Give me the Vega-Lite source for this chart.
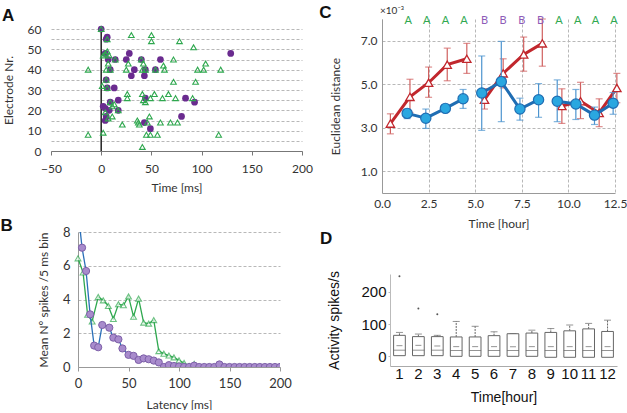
{
  "$schema": "https://vega.github.io/schema/vega-lite/v6.json",
  "background": "white",
  "padding": {"left": 0, "top": 4, "right": 0, "bottom": 0},
  "config": {
    "view": {"stroke": null},
    "font": "Lato",
    "title": {"fontSize": 17, "font": "Liberation Sans", "fontWeight": "bold", "anchor": "start", "frame": "bounds", "color": "#111"},
    "axis": {"labelFontSize": 12, "titleFontSize": 12, "titleFontWeight": "normal", "labelColor": "#333", "titleColor": "#333", "domainColor": "#999", "tickColor": "#999", "gridColor": "#b8b8b8", "gridDash": [3, 2], "labelFont": "Lato", "titleFont": "Lato", "labelOverlap": false, "labelFlush": false}
  },
  "spacing": 6,
  "hconcat": [
    {
      "vconcat": [
        {
          "title": {"text": "A", "offset": -6, "dx": 0},
          "width": 251, "height": 132,
          "data": {"name": "A"},
          "encoding": {
            "x": {"field": "t", "type": "quantitative", "scale": {"domain": [-50, 200], "nice": false}, "axis": {"values": [-50, 0, 50, 100, 150, 200], "title": "Time [ms]", "grid": false, "tickSize": 4, "labelPadding": 8, "titlePadding": 8, "domainColor": "#777", "tickColor": "#777", "labelFlush": false}},
            "y": {"field": "el", "type": "quantitative", "scale": {"domain": [0, 60], "nice": false, "range": [132, 10]}, "axis": {"values": [0, 5, 10, 15, 20, 25, 30, 35, 40, 45, 50, 55, 60], "labelExpr": "datum.value % 10 === 0 ? datum.label : ''", "labelOverlap": false, "title": "Electrode Nr.", "domain": false, "ticks": false, "labelPadding": 10, "titlePadding": 12}}
          },
          "layer": [
            {
              "data": {"values": [{"t": 0, "el": 0, "el2": 60}]},
              "mark": {"type": "rule", "color": "#222", "strokeWidth": 1.5},
              "encoding": {"y2": {"field": "el2"}}
            },
            {
              "transform": [{"filter": "datum.kind === 'circle'"}],
              "mark": {"type": "point", "shape": "circle", "filled": true, "color": "#6a2b8f", "size": 45, "opacity": 1},
              "encoding": {}
            },
            {
              "transform": [{"filter": "datum.kind === 'triangle'"}],
              "mark": {"type": "point", "shape": "triangle-up", "filled": false, "color": "#2fa84f", "strokeWidth": 1.1, "size": 32, "opacity": 1},
              "encoding": {}
            }
          ]
        },
        {
          "title": {"text": "B", "offset": -9, "dx": -37},
          "width": 229, "height": 135,
          "encoding": {
            "x": {"field": "x", "type": "quantitative", "scale": {"domain": [0, 200], "nice": false, "range": [27, 229]}, "axis": {"values": [0, 50, 100, 150, 200], "title": "Latency [ms]", "grid": false, "tickSize": 4, "labelPadding": 6, "titlePadding": 9, "labelFontSize": 13, "labelFlush": false}},
            "y": {"field": "y", "type": "quantitative", "scale": {"domain": [0, 8], "nice": false}, "axis": {"values": [0, 2, 4, 6, 8], "title": "Mean Nº spikes /5 ms bin", "tickSize": 0, "labelPadding": 8, "titlePadding": 12, "labelFontSize": 13, "offset": -27}}
          },
          "layer": [
            {
              "data": {"name": "Bgreen"},
              "mark": {"type": "line", "color": "#2fa84f", "strokeWidth": 1.3, "clip": true},
              "encoding": {}
            },
            {
              "data": {"name": "Bgreen"},
              "mark": {"type": "point", "shape": "triangle-up", "filled": true, "fill": "white", "stroke": "#2fa84f", "strokeWidth": 1.1, "size": 34, "clip": true},
              "encoding": {}
            },
            {
              "data": {"name": "Bpurple"},
              "mark": {"type": "line", "color": "#2a6fb8", "strokeWidth": 1.3, "clip": true},
              "encoding": {}
            },
            {
              "data": {"name": "Bpurple"},
              "mark": {"type": "point", "shape": "circle", "filled": true, "fill": "#a88bcc", "stroke": "#7d5fa8", "strokeWidth": 1, "size": 52, "opacity": 1, "clip": true},
              "encoding": {}
            }
          ]
        }
      ],
      "spacing": 24
    },
    {
      "vconcat": [
        {
          "title": {"text": "C", "offset": -16, "dx": -10},
          "width": 233, "height": 174,
          "layer": [
            {
              "data": {"name": "Cred"},
              "mark": {"type": "rule", "color": "#d0605f", "strokeWidth": 1.2},
              "encoding": {
                "x": {"field": "x", "type": "quantitative"},
                "y": {"field": "lo", "type": "quantitative"},
                "y2": {"field": "hi"}
              }
            },
            {
              "data": {"name": "Cred"},
              "mark": {"type": "tick", "orient": "horizontal", "color": "#d0605f", "size": 7, "thickness": 1.2},
              "encoding": {
                "x": {"field": "x", "type": "quantitative"},
                "y": {"field": "lo", "type": "quantitative"}
              }
            },
            {
              "data": {"name": "Cred"},
              "mark": {"type": "tick", "orient": "horizontal", "color": "#d0605f", "size": 7, "thickness": 1.2},
              "encoding": {
                "x": {"field": "x", "type": "quantitative"},
                "y": {"field": "hi", "type": "quantitative"}
              }
            },
            {
              "data": {"name": "Cred"},
              "mark": {"type": "line", "color": "#c1272d", "strokeWidth": 3},
              "encoding": {
                "x": {"field": "x", "type": "quantitative"},
                "y": {"field": "y", "type": "quantitative"},
                "detail": {"field": "seg"}
              }
            },
            {
              "data": {"name": "Cred"},
              "mark": {"type": "point", "shape": "triangle-up", "filled": true, "fill": "white", "stroke": "#c1272d", "strokeWidth": 1.3, "size": 70, "opacity": 1},
              "encoding": {
                "x": {"field": "x", "type": "quantitative"},
                "y": {"field": "y", "type": "quantitative"}
              }
            },
            {
              "data": {"name": "Cblue"},
              "mark": {"type": "rule", "color": "#4d94cf", "strokeWidth": 1.2},
              "encoding": {
                "x": {"field": "x", "type": "quantitative"},
                "y": {"field": "lo", "type": "quantitative"},
                "y2": {"field": "hi"}
              }
            },
            {
              "data": {"name": "Cblue"},
              "mark": {"type": "tick", "orient": "horizontal", "color": "#4d94cf", "size": 7, "thickness": 1.2},
              "encoding": {
                "x": {"field": "x", "type": "quantitative"},
                "y": {"field": "lo", "type": "quantitative"}
              }
            },
            {
              "data": {"name": "Cblue"},
              "mark": {"type": "tick", "orient": "horizontal", "color": "#4d94cf", "size": 7, "thickness": 1.2},
              "encoding": {
                "x": {"field": "x", "type": "quantitative"},
                "y": {"field": "hi", "type": "quantitative"}
              }
            },
            {
              "data": {"name": "Cblue"},
              "mark": {"type": "line", "color": "#1f6db3", "strokeWidth": 3},
              "encoding": {
                "x": {"field": "x", "type": "quantitative"},
                "y": {"field": "y", "type": "quantitative"},
                "detail": {"field": "seg"}
              }
            },
            {
              "data": {"name": "Cblue"},
              "mark": {"type": "point", "shape": "circle", "filled": true, "fill": "#2aa7e0", "stroke": "#1f6db3", "strokeWidth": 1.2, "size": 105, "opacity": 1},
              "encoding": {
                "x": {"field": "x", "type": "quantitative"},
                "y": {"field": "y", "type": "quantitative"}
              }
            },
            {
              "data": {"name": "Cletters"},
              "mark": {"type": "text", "fontSize": 11, "baseline": "middle", "font": "Lato"},
              "encoding": {
                "x": {"field": "x", "type": "quantitative"},
                "y": {"field": "y", "type": "quantitative"},
                "text": {"field": "label"},
                "color": {"field": "label", "type": "nominal", "scale": {"domain": ["A", "B"], "range": ["#2fa84f", "#8e5cb8"]}, "legend": null}
              }
            },
            {
              "data": {"values": [{"x": 0, "y": 8, "label": "×10⁻³"}]},
              "mark": {"type": "text", "fontSize": 10, "align": "left", "baseline": "bottom", "dy": -3, "dx": -2, "color": "#333", "font": "Lato"},
              "encoding": {
                "x": {"field": "x", "type": "quantitative", "scale": {"domain": [0, 12.5], "nice": false}, "axis": {"values": [0, 2.5, 5, 7.5, 10, 12.5], "format": ".1f", "title": "Time [hour]", "tickSize": 0, "labelPadding": 5, "titlePadding": 9, "labelFlush": false}},
                "y": {"field": "y", "type": "quantitative", "scale": {"domain": [1, 8], "nice": false}, "axis": {"values": [1, 3, 5, 7], "format": ".1f", "title": "Euclidean distance", "tickSize": 0, "labelPadding": 5, "titlePadding": 18}},
                "text": {"field": "label"}
              }
            }
          ]
        },
        {
          "title": {"text": "D", "offset": 23, "dx": -8},
          "width": 235, "height": 92,
          "data": {"name": "D"},
          "encoding": {
            "x": {"field": "hour", "type": "ordinal", "scale": {"domain": [1, 2, 3, 4, 5, 6, 7, 8, 9, 10, 11, 12], "paddingInner": 0, "paddingOuter": 0, "range": [8, 235]}, "axis": {"labelAngle": 0, "ticks": false, "title": "Time[hour]", "labelFont": "Liberation Sans", "titleFont": "Liberation Sans", "labelFontSize": 15, "titleFontSize": 14, "labelColor": "#111", "titleColor": "#111", "labelPadding": 0, "titlePadding": 9, "domainColor": "#aaa"}}
          },
          "layer": [
            {
              "mark": {"type": "rule", "color": "#666", "strokeWidth": 1, "strokeDash": [2, 1]},
              "encoding": {
                "y": {"field": "q3", "type": "quantitative", "scale": {"domain": [-30, 255], "nice": false, "zero": false}, "axis": {"values": [0, 50, 100, 150, 200, 250], "labelExpr": "datum.value % 100 === 0 ? datum.label : ''", "labelOverlap": false, "title": "Activity spikes/s", "grid": false, "tickSize": 2, "labelPadding": 2, "titlePadding": 19, "labelFont": "Liberation Sans", "titleFont": "Liberation Sans", "labelFontSize": 15, "titleFontSize": 14, "labelColor": "#111", "titleColor": "#111", "domainColor": "#bbb", "tickColor": "#bbb", "offset": -8}},
                "y2": {"field": "cap"}
              }
            },
            {
              "mark": {"type": "tick", "color": "#666", "size": 7, "thickness": 1},
              "encoding": {
                "y": {"field": "cap", "type": "quantitative"}
              }
            },
            {
              "mark": {"type": "bar", "fill": "white", "stroke": "#666", "strokeWidth": 1, "width": {"band": 0.62}},
              "encoding": {
                "y": {"field": "lo", "type": "quantitative"},
                "y2": {"field": "q3"}
              }
            },
            {
              "mark": {"type": "tick", "color": "#666", "size": 12, "thickness": 1},
              "encoding": {
                "y": {"field": "med", "type": "quantitative"}
              }
            },
            {
              "mark": {"type": "tick", "color": "#666", "size": 6, "thickness": 1},
              "encoding": {
                "y": {"field": "waist", "type": "quantitative"}
              }
            },
            {
              "data": {"name": "Dout"},
              "mark": {"type": "point", "shape": "circle", "filled": true, "color": "#555", "size": 4, "opacity": 1},
              "encoding": {
                "y": {"field": "v", "type": "quantitative"}
              }
            }
          ]
        }
      ],
      "spacing": 0
    }
  ],
  "datasets": {
    "A": [
      {"t": 0, "el": 60, "kind": "circle"}, {"t": 6, "el": 56, "kind": "circle"}, {"t": 5, "el": 55, "kind": "circle"},
      {"t": 28, "el": 48, "kind": "circle"}, {"t": 129, "el": 48, "kind": "circle"}, {"t": 4, "el": 48, "kind": "circle"},
      {"t": 14, "el": 45, "kind": "circle"}, {"t": 7, "el": 45, "kind": "circle"}, {"t": 25, "el": 45, "kind": "circle"},
      {"t": 40, "el": 45, "kind": "circle"}, {"t": 59, "el": 45, "kind": "circle"}, {"t": 9, "el": 40, "kind": "circle"},
      {"t": 33, "el": 40, "kind": "circle"}, {"t": 44, "el": 40, "kind": "circle"}, {"t": 54, "el": 40, "kind": "circle"},
      {"t": 30, "el": 37, "kind": "circle"}, {"t": 43, "el": 37, "kind": "circle"}, {"t": 5, "el": 35, "kind": "circle"},
      {"t": 6, "el": 31, "kind": "circle"}, {"t": 13, "el": 31, "kind": "circle"}, {"t": 84, "el": 26, "kind": "circle"},
      {"t": 44, "el": 26, "kind": "circle"}, {"t": 17, "el": 25, "kind": "circle"}, {"t": 9, "el": 24, "kind": "circle"},
      {"t": 93, "el": 24, "kind": "circle"}, {"t": 2, "el": 22, "kind": "circle"}, {"t": 4, "el": 21, "kind": "circle"},
      {"t": 8, "el": 20, "kind": "circle"}, {"t": 17, "el": 20, "kind": "circle"}, {"t": 80, "el": 17, "kind": "circle"},
      {"t": 5, "el": 17, "kind": "circle"}, {"t": 4, "el": 15, "kind": "circle"}, {"t": 43, "el": 14, "kind": "circle"},
      {"t": 49, "el": 11, "kind": "circle"},
      {"t": 0, "el": 60, "kind": "triangle"}, {"t": 30, "el": 57, "kind": "triangle"}, {"t": 50, "el": 57, "kind": "triangle"},
      {"t": 50, "el": 54, "kind": "triangle"}, {"t": 78, "el": 54, "kind": "triangle"}, {"t": 92, "el": 51, "kind": "triangle"},
      {"t": 6, "el": 55, "kind": "triangle"}, {"t": 4, "el": 48, "kind": "triangle"}, {"t": 6, "el": 49, "kind": "triangle"},
      {"t": 2, "el": 47, "kind": "triangle"}, {"t": 8, "el": 47, "kind": "triangle"}, {"t": 14, "el": 45, "kind": "triangle"},
      {"t": 40, "el": 45, "kind": "triangle"}, {"t": 72, "el": 45, "kind": "triangle"}, {"t": 42, "el": 43, "kind": "triangle"},
      {"t": 27, "el": 43, "kind": "triangle"}, {"t": 62, "el": 42, "kind": "triangle"}, {"t": 104, "el": 43, "kind": "triangle"},
      {"t": 7, "el": 43, "kind": "triangle"},
      {"t": -13, "el": 40, "kind": "triangle"}, {"t": 5, "el": 40, "kind": "triangle"}, {"t": 9, "el": 40, "kind": "triangle"},
      {"t": 25, "el": 40, "kind": "triangle"}, {"t": 41, "el": 40, "kind": "triangle"}, {"t": 44, "el": 40, "kind": "triangle"},
      {"t": 54, "el": 40, "kind": "triangle"}, {"t": 63, "el": 40, "kind": "triangle"}, {"t": 96, "el": 40, "kind": "triangle"},
      {"t": 102, "el": 40, "kind": "triangle"}, {"t": 119, "el": 40, "kind": "triangle"}, {"t": 72, "el": 34, "kind": "triangle"},
      {"t": 94, "el": 34, "kind": "triangle"}, {"t": 5, "el": 35, "kind": "triangle"}, {"t": 1, "el": 32, "kind": "triangle"},
      {"t": 6, "el": 31, "kind": "triangle"}, {"t": 26, "el": 28, "kind": "triangle"}, {"t": 41, "el": 28, "kind": "triangle"},
      {"t": 53, "el": 28, "kind": "triangle"}, {"t": 67, "el": 28, "kind": "triangle"}, {"t": 26, "el": 26, "kind": "triangle"},
      {"t": 49, "el": 26, "kind": "triangle"}, {"t": 61, "el": 26, "kind": "triangle"}, {"t": 74, "el": 26, "kind": "triangle"},
      {"t": 91, "el": 26, "kind": "triangle"}, {"t": 9, "el": 24, "kind": "triangle"}, {"t": 44, "el": 24, "kind": "triangle"},
      {"t": 42, "el": 25, "kind": "triangle"}, {"t": 13, "el": 23, "kind": "triangle"}, {"t": 11, "el": 22, "kind": "triangle"},
      {"t": 17, "el": 20, "kind": "triangle"}, {"t": 4, "el": 19, "kind": "triangle"}, {"t": 11, "el": 17, "kind": "triangle"},
      {"t": 48, "el": 17, "kind": "triangle"}, {"t": 36, "el": 15, "kind": "triangle"}, {"t": 37, "el": 14, "kind": "triangle"},
      {"t": 38, "el": 13, "kind": "triangle"}, {"t": 21, "el": 13, "kind": "triangle"}, {"t": 46, "el": 14, "kind": "triangle"},
      {"t": 59, "el": 14, "kind": "triangle"}, {"t": 69, "el": 14, "kind": "triangle"}, {"t": 76, "el": 14, "kind": "triangle"},
      {"t": 7, "el": 16, "kind": "triangle"}, {"t": 2, "el": 9, "kind": "triangle"}, {"t": -13, "el": 8, "kind": "triangle"},
      {"t": 45, "el": 8, "kind": "triangle"}, {"t": 49, "el": 8, "kind": "triangle"}, {"t": 56, "el": 8, "kind": "triangle"},
      {"t": 117, "el": 8, "kind": "triangle"}, {"t": 41, "el": 2, "kind": "triangle"}
    ],
    "Bgreen": [
      {"x": 0, "y": 6.44}, {"x": 5, "y": 5.6}, {"x": 9.5, "y": 3.1}, {"x": 14, "y": 2.7}, {"x": 20, "y": 4.15},
      {"x": 25, "y": 3.95}, {"x": 30, "y": 3.62}, {"x": 35, "y": 2.85}, {"x": 40, "y": 3.72}, {"x": 45, "y": 3.66},
      {"x": 50, "y": 4.18}, {"x": 55, "y": 2.98}, {"x": 60, "y": 4.05}, {"x": 65, "y": 2.63}, {"x": 70, "y": 2.57},
      {"x": 75, "y": 2.78}, {"x": 80, "y": 0.94}, {"x": 85, "y": 0.79}, {"x": 90, "y": 0.68}, {"x": 95, "y": 0.57},
      {"x": 100, "y": 0.39}, {"x": 105, "y": 0.24}, {"x": 110, "y": 0.05}, {"x": 115, "y": 0.18}, {"x": 120, "y": 0},
      {"x": 125, "y": 0}, {"x": 130, "y": 0}, {"x": 135, "y": 0}, {"x": 140, "y": 0}, {"x": 145, "y": 0},
      {"x": 150, "y": 0}, {"x": 155, "y": 0}, {"x": 160, "y": 0}, {"x": 165, "y": 0}, {"x": 170, "y": 0},
      {"x": 175, "y": 0}, {"x": 180, "y": 0}, {"x": 185, "y": 0}, {"x": 190, "y": 0}, {"x": 195, "y": 0}, {"x": 200, "y": 0}
    ],
    "Bpurple": [
      {"x": 0, "y": 9.3}, {"x": 4, "y": 7.07}, {"x": 8, "y": 5.69}, {"x": 12, "y": 3.12}, {"x": 16, "y": 1.27},
      {"x": 20, "y": 1.17}, {"x": 24, "y": 2.49}, {"x": 31, "y": 2.33}, {"x": 35, "y": 1.74}, {"x": 40, "y": 1.64},
      {"x": 44, "y": 1.1}, {"x": 50, "y": 0.72}, {"x": 55, "y": 0.66}, {"x": 60, "y": 0.42}, {"x": 65, "y": 0.51},
      {"x": 70, "y": 0.46}, {"x": 75, "y": 0.38}, {"x": 80, "y": 0.27}, {"x": 85, "y": 0}, {"x": 90, "y": 0.11},
      {"x": 95, "y": 0.06}, {"x": 100, "y": 0.03}, {"x": 105, "y": 0}, {"x": 110, "y": 0}, {"x": 115, "y": 0.08},
      {"x": 120, "y": 0}, {"x": 125, "y": 0}, {"x": 130, "y": 0}, {"x": 135, "y": 0}, {"x": 140, "y": 0.15},
      {"x": 145, "y": 0}, {"x": 150, "y": 0}, {"x": 155, "y": 0}, {"x": 160, "y": 0}, {"x": 165, "y": 0},
      {"x": 170, "y": 0}, {"x": 175, "y": 0}, {"x": 180, "y": 0}, {"x": 185, "y": 0}, {"x": 190, "y": 0},
      {"x": 195, "y": 0}, {"x": 200, "y": 0}
    ],
    "Cred": [
      {"x": 0.45, "y": 3.19, "lo": 2.72, "hi": 3.64, "seg": 1},
      {"x": 1.5, "y": 4.42, "lo": 3.7, "hi": 5.23, "seg": 1},
      {"x": 2.5, "y": 5.07, "lo": 4.4, "hi": 5.79, "seg": 1},
      {"x": 3.5, "y": 5.9, "lo": 5.16, "hi": 6.66, "seg": 1},
      {"x": 4.55, "y": 6.17, "lo": 5.5, "hi": 6.88, "seg": 1},
      {"x": 5.5, "y": 4.29, "lo": 3.86, "hi": 4.8, "seg": 2},
      {"x": 6.5, "y": 5.5, "lo": 4.83, "hi": 6.17, "seg": 2},
      {"x": 7.6, "y": 6.37, "lo": 5.6, "hi": 7.17, "seg": 2},
      {"x": 8.6, "y": 6.88, "lo": 5.83, "hi": 8.0, "seg": 2},
      {"x": 9.65, "y": 4.0, "lo": 3.2, "hi": 4.79, "seg": 3},
      {"x": 10.65, "y": 4.22, "lo": 3.42, "hi": 5.09, "seg": 3},
      {"x": 11.65, "y": 3.68, "lo": 3.05, "hi": 4.33, "seg": 3},
      {"x": 12.6, "y": 4.83, "lo": 4.15, "hi": 5.5, "seg": 3}
    ],
    "Cblue": [
      {"x": 1.35, "y": 3.66, "lo": 3.42, "hi": 3.86, "seg": 1},
      {"x": 2.35, "y": 3.44, "lo": 2.97, "hi": 3.86, "seg": 1},
      {"x": 3.4, "y": 3.89, "lo": 3.8, "hi": 3.98, "seg": 1},
      {"x": 4.35, "y": 4.33, "lo": 3.89, "hi": 4.76, "seg": 1},
      {"x": 5.35, "y": 4.6, "lo": 2.88, "hi": 6.3, "seg": 2},
      {"x": 6.4, "y": 5.12, "lo": 3.28, "hi": 6.97, "seg": 2},
      {"x": 7.4, "y": 3.86, "lo": 3.35, "hi": 4.36, "seg": 2},
      {"x": 8.4, "y": 4.29, "lo": 3.48, "hi": 5.03, "seg": 2},
      {"x": 9.4, "y": 4.22, "lo": 3.28, "hi": 5.2, "seg": 3},
      {"x": 10.4, "y": 4.09, "lo": 3.38, "hi": 4.76, "seg": 3},
      {"x": 11.4, "y": 3.58, "lo": 3.15, "hi": 3.95, "seg": 3},
      {"x": 12.4, "y": 4.13, "lo": 3.62, "hi": 4.62, "seg": 3}
    ],
    "Cletters": [
      {"x": 1.4, "y": 7.92, "label": "A"}, {"x": 2.4, "y": 7.92, "label": "A"}, {"x": 3.4, "y": 7.92, "label": "A"}, {"x": 4.4, "y": 7.92, "label": "A"},
      {"x": 5.5, "y": 7.92, "label": "B"}, {"x": 6.5, "y": 7.92, "label": "B"}, {"x": 7.5, "y": 7.92, "label": "B"}, {"x": 8.5, "y": 7.92, "label": "B"},
      {"x": 9.5, "y": 7.92, "label": "A"}, {"x": 10.5, "y": 7.92, "label": "A"}, {"x": 11.45, "y": 7.92, "label": "A"}, {"x": 12.45, "y": 7.92, "label": "A"}
    ],
    "D": [
      {"hour": 1, "lo": 2, "med": 19, "waist": 33, "q3": 65, "cap": 74},
      {"hour": 2, "lo": 2, "med": 19, "waist": 34, "q3": 61, "cap": 69},
      {"hour": 3, "lo": 2, "med": 19, "waist": 32, "q3": 61, "cap": 65},
      {"hour": 4, "lo": 0, "med": 18, "waist": 30, "q3": 60, "cap": 108},
      {"hour": 5, "lo": 0, "med": 18, "waist": 30, "q3": 60, "cap": 93},
      {"hour": 6, "lo": 0, "med": 18, "waist": 30, "q3": 64, "cap": 76},
      {"hour": 7, "lo": 0, "med": 18, "waist": 30, "q3": 70, "cap": 71},
      {"hour": 8, "lo": 0, "med": 18, "waist": 30, "q3": 72, "cap": 81},
      {"hour": 9, "lo": -3, "med": 18, "waist": 30, "q3": 74, "cap": 86},
      {"hour": 10, "lo": -3, "med": 18, "waist": 30, "q3": 79, "cap": 97},
      {"hour": 11, "lo": -3, "med": 18, "waist": 30, "q3": 85, "cap": 102},
      {"hour": 12, "lo": -3, "med": 18, "waist": 30, "q3": 77, "cap": 112}
    ],
    "Dout": [
      {"hour": 1, "v": 248}, {"hour": 2, "v": 148}, {"hour": 3, "v": 130}
    ]
  }
}
